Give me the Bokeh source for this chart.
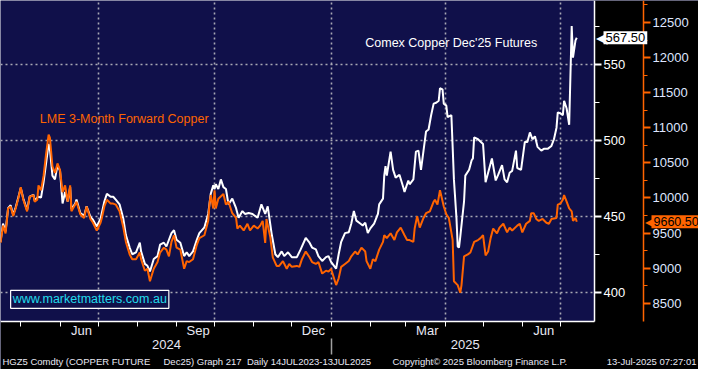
import pandas as pd
from bokeh.plotting import figure
from bokeh.models import Range1d, LinearAxis, FixedTicker, Grid, Label, BoxAnnotation
from bokeh.embed import file_html
from bokeh.resources import INLINE

start_date = "2024-04-15"
end_date = "2025-07-28"

lme_day = [0,2,4,6,8,10,12,14,16,18,
           21,23,26,27,29,30,32,34,36,38,
           39,41,43,45,47,49,51,53,55,56,
           59,60,63,66,68,71,73,76,79,80,
           82,84,87,89,91,94,97,99,102,104,
           107,110,111,114,116,118,121,124,126,129,
           131,133,135,137,139,142,145,147,149,152,
           155,157,161,164,165,166,168,169,170,172,
           176,178,180,183,186,187,189,192,195,197,
           200,203,205,207,209,210,213,215,218,220,
           223,226,228,230,234,236,238,241,244,246,
           249,251,254,257,259,261,265,267,269,272,
           275,277,280,282,285,288,289,292,294,296,
           299,302,303,305,308,311,313,316,319,321,
           323,326,327,329,331,334,336,339,342,343,
           345,347,350,352,354,357,358,361,363,364,
           366,369,371,374,377,379,381,383,385,387,
           389,392,394,397,400,402,404,408,410,412,
           415,418,419,421,423,425,428,431,433,435,
           439,440,442,444,445,447,449,451,452,454,
           455]
lme_price = [9360,9606,9496,9851,9879,9742,9851,9988,10152,9974,
             9810,10015,10042,9947,9974,10179,10111,10315,10629,10902,
             10861,10452,10356,10493,10397,10083,10179,9947,10179,9810,
             9906,9947,9769,9715,9879,9701,9647,9537,9647,9715,
             9879,9974,9920,9920,9906,9810,9578,9374,9196,9128,
             9128,9223,9128,8964,8991,8814,8991,9087,9223,9292,
             9264,9169,9374,9469,9292,9264,8991,9101,9087,9128,
             9333,9428,9469,9674,9920,10042,9851,10111,9851,9988,
             10056,9906,9947,9783,9715,9565,9606,9537,9633,9537,
             9606,9565,9606,9674,9360,9701,9442,9155,9032,9032,
             9101,8991,9060,9019,9032,9019,9128,9237,9155,9087,
             9060,9087,8923,8964,8950,8991,8759,8855,9019,9060,
             9101,9169,9237,9196,9292,9237,9101,8991,9128,9101,
             9264,9374,9469,9428,9496,9401,9510,9578,9469,9401,
             9401,9374,9565,9742,9578,9715,9783,9810,9947,9974,
             9906,10111,9879,9769,9715,9401,8814,8759,8650,8759,
             9169,9196,9223,9374,9401,9428,9469,9183,9237,9428,
             9565,9496,9578,9633,9510,9578,9537,9606,9633,9510,
             9633,9674,9783,9783,9701,9674,9701,9647,9633,9701,
             9715,9906,9920,9974,10042,9947,9851,9810,9674,9715,
             9660.5]

comex_day = [0,2,4,6,8,10,12,14,16,18,
             21,23,26,27,29,30,32,34,36,38,
             39,41,43,45,47,49,51,53,55,56,
             59,60,63,66,68,71,73,76,79,80,
             82,84,87,89,91,94,97,99,102,104,
             107,110,111,114,116,118,121,124,126,129,
             131,135,137,139,142,145,147,149,152,155,
             157,161,164,166,168,169,170,172,174,176,
             178,180,183,186,188,191,193,196,199,201,
             203,206,209,211,214,217,219,222,224,227,
             230,232,234,237,241,244,246,249,251,254,
             257,259,261,265,267,269,272,275,277,279,
             281,284,286,288,290,292,295,298,299,302,
             303,304,305,308,310,312,315,318,319,322,
             323,326,328,330,332,334,336,338,340,342,
             344,346,347,349,350,352,353,356,357,358,
             360,361,362,363,366,367,370,372,373,374,
             377,381,383,385,388,391,393,396,398,400,
             402,404,407,408,411,414,416,418,420,422,
             424,427,429,432,435,437,439,440,442,444,
             445,447,449,451,452,454,455]
comex_price = [433.4,445.4,440.3,455.5,457.4,451.1,456.1,462.4,468.7,461.8,
               454.2,463.0,464.3,460.5,462.4,463.0,462.4,472.5,485.1,497.7,
               494.5,476.9,474.4,483.8,480.0,458.6,466.2,459.9,469.3,454.8,
               458.6,461.1,452.3,450.4,456.7,449.8,447.9,443.5,448.5,452.3,
               459.9,464.9,463.0,463.0,461.1,458.0,448.5,437.8,429.6,425.2,
               426.5,432.8,427.1,418.9,417.6,413.9,422.1,424.0,431.5,432.8,
               430.3,439.1,441.0,434.7,432.8,424.0,426.5,424.0,427.1,434.7,
               439.1,442.9,451.7,464.9,470.6,468.1,471.2,468.1,474.4,469.3,
               468.1,458.0,461.8,455.5,449.2,453.6,451.7,452.3,451.7,450.4,
               449.2,458.0,451.7,456.7,439.1,425.2,423.3,427.1,424.0,426.5,
               423.3,423.3,423.3,428.4,435.9,432.8,429.6,428.4,424.0,420.8,
               423.3,424.0,420.2,415.8,425.2,433.4,439.1,439.7,445.4,453.6,
               447.3,445.4,444.1,446.0,439.1,442.2,445.4,451.7,458.0,461.8,
               476.9,483.2,476.9,492.7,480.7,475.6,477.5,469.3,466.2,473.7,
               471.2,474.4,492.7,493.3,480.7,493.3,505.9,507.2,516.6,524.2,
               524.8,526.1,534.3,533.6,524.2,522.9,515.3,516.6,495.8,474.4,
               449.2,430.3,429.6,436.6,459.9,476.9,480.7,487.0,488.2,502.1,
               500.8,497.7,472.5,478.8,488.2,473.7,477.5,483.8,474.4,472.5,
               478.8,480.0,493.3,481.9,480.7,499.0,499.0,505.3,500.8,502.7,
               495.8,493.3,494.5,494.5,496.4,500.8,508.4,518.5,517.9,516.6,
               526.1,521.0,510.3,575.2,554.4,565.8,567.5]

comex_ticks = [400, 450, 500, 550]
comex_minor = [425, 475, 525, 575]
lme_ticks = [8500, 9000, 9500, 10000, 10500, 11000, 11500, 12000, 12500]
lme_minor = [8750, 9250, 9750, 10250, 10750, 11250, 11750, 12250, 12750]
month_labels = ["Jun", "Sep", "Dec", "Mar", "Jun"]
month_label_dates = ["2024-06-18", "2024-09-18", "2024-12-18", "2025-03-18", "2025-06-18"]
month_tick_dates = ["2024-05-01", "2024-06-01", "2024-07-01", "2024-08-01", "2024-09-01",
                    "2024-10-01", "2024-11-01", "2024-12-01", "2025-01-01", "2025-02-01",
                    "2025-03-01", "2025-04-01", "2025-05-01", "2025-06-01", "2025-07-01"]
grid_dates = ["2024-07-01", "2024-10-01", "2025-01-01", "2025-04-01", "2025-07-01"]
year_labels = ["2024", "2025"]
year_label_dates = ["2024-08-24", "2025-04-17"]
year_break = ["2025-01-01"]

comex_last = 567.50
lme_last = 9660.50
comex_name = "Comex Copper Dec'25 Futures"
lme_name = "LME 3-Month Forward Copper"
site = "www.marketmatters.com.au"
footer_left = "HGZ5 Comdty (COPPER FUTURE\u00a0\u00a0\u00a0\u00a0 Dec25) Graph 217\u00a0 Daily 14JUL2023-13JUL2025"
footer_mid = "Copyright\u00a9 2025 Bloomberg Finance L.P."
footer_right = "13-Jul-2025 07:27:01"


def ms(d):
    return int(pd.Timestamp(d).value // 10**6)


# ---- layout (pixels) ----
W, H = 698, 369
DATA_W, DATA_H = 594, 321          # navy plotting region, top-left anchored
C_LO, C_HI = 381, 592              # Comex range shown in the navy region
L_LO, L_HI = 8240, 12814           # LME range shown in the navy region
AX2_PX = 49                        # gap between the two right-hand axes

x0, x1 = ms(start_date), ms(end_date)
xpp = (x1 - x0) / DATA_W
cpp = (C_HI - C_LO) / DATA_H
lpp = (L_HI - L_LO) / DATA_H


def x_at(px):
    return x0 + px * xpp


def c_at(py):
    return C_HI - py * cpp


t0 = pd.Timestamp(start_date)
lme_x = [t0 + pd.Timedelta(days=d) for d in lme_day]
comex_x = [t0 + pd.Timedelta(days=d) for d in comex_day]

NAVY = "#10104a"
ORANGE = "#ff6400"
FONT = "Liberation Sans"
TXT = "#e8e8f4"

p = figure(width=W, height=H,
           x_range=Range1d(x0, x_at(W)),
           y_range=Range1d(c_at(H), C_HI),
           x_axis_type=None, y_axis_type=None,
           output_backend="svg", toolbar_location=None,
           min_border=0, min_border_left=0, min_border_top=0,
           min_border_right=0, min_border_bottom=0,
           background_fill_color=NAVY, border_fill_color="black",
           outline_line_color=None)
p.extra_y_ranges = {"lme": Range1d(L_HI - H * lpp, L_HI)}

# grids (drawn first, then covered outside the navy region)
p.add_layout(Grid(dimension=1, ticker=FixedTicker(ticks=comex_ticks), level="image",
                  grid_line_color="#a8a8b4", grid_line_dash="2 3", grid_line_width=1.6))
p.add_layout(Grid(dimension=0, ticker=FixedTicker(ticks=[ms(d) for d in grid_dates]),
                  level="image",
                  grid_line_color="#a8a8b4", grid_line_dash="2 3", grid_line_width=1.6))
p.add_layout(BoxAnnotation(left=x1, fill_color="black", fill_alpha=1, line_color=None,
                           level="underlay"))
p.add_layout(BoxAnnotation(top=C_LO, fill_color="black", fill_alpha=1, line_color=None,
                           level="underlay"))

# series
p.line(comex_x, comex_price, color="white", line_width=2)
p.line(lme_x, lme_price, color=ORANGE, line_width=2, y_range_name="lme")

# right axes
ax_c = LinearAxis(fixed_location=x1, bounds=(C_LO, C_HI),
                  ticker=FixedTicker(ticks=comex_ticks, minor_ticks=comex_minor),
                  axis_line_color="white", axis_line_width=1.5,
                  major_tick_line_color="white", major_tick_line_width=2,
                  major_tick_out=7, major_tick_in=0,
                  minor_tick_line_color="white", minor_tick_out=5, minor_tick_in=0,
                  major_label_text_color="white", major_label_text_font=FONT,
                  major_label_text_font_size="13px", major_label_standoff=2)
p.add_layout(ax_c, "right")

x_l = x_at(DATA_W + AX2_PX)
ax_l = LinearAxis(y_range_name="lme", fixed_location=x_l, bounds=(L_LO, L_HI),
                  ticker=FixedTicker(ticks=lme_ticks, minor_ticks=lme_minor),
                  axis_line_color=ORANGE, axis_line_width=1.5,
                  major_tick_line_color=ORANGE, major_tick_line_width=2,
                  major_tick_out=7, major_tick_in=0,
                  minor_tick_line_color=ORANGE, minor_tick_out=4, minor_tick_in=0,
                  major_label_text_color="#dfe6ff", major_label_text_font=FONT,
                  major_label_text_font_size="13px", major_label_standoff=2)
p.add_layout(ax_l, "right")

# bottom: month tick marks (no labels)
month_tick_ms = [ms(d) for d in month_tick_dates]
ax_mt = LinearAxis(fixed_location=C_LO, bounds=(x0, x1),
                   ticker=FixedTicker(ticks=month_tick_ms),
                   major_label_overrides={m: "" for m in month_tick_ms},
                   axis_line_color="white", axis_line_width=1.5,
                   major_tick_line_color="white", major_tick_out=5, major_tick_in=0,
                   minor_tick_line_color=None,
                   major_label_text_font_size="1px")
p.add_layout(ax_mt, "below")

# bottom: month labels
month_ms = [ms(d) for d in month_label_dates]
ax_m = LinearAxis(fixed_location=C_LO, bounds=(x0, x1),
                  ticker=FixedTicker(ticks=month_ms),
                  major_label_overrides={m: lab for m, lab in zip(month_ms, month_labels)},
                  axis_line_color=None,
                  major_tick_line_color=None, major_tick_out=0, major_tick_in=0,
                  minor_tick_line_color=None, minor_tick_out=0, minor_tick_in=0,
                  major_label_standoff=1, major_label_text_color=TXT,
                  major_label_text_font=FONT, major_label_text_font_size="13px")
p.add_layout(ax_m, "below")

# bottom: year separator
ax_sep = LinearAxis(fixed_location=c_at(338), bounds=(x0, x1),
                    ticker=FixedTicker(ticks=[ms(d) for d in year_break]),
                    major_label_overrides={ms(d): "" for d in year_break},
                    axis_line_color=None,
                    major_tick_line_color="#a0a0a0", major_tick_line_width=1.5,
                    major_tick_out=16, major_tick_in=0,
                    minor_tick_line_color=None, major_label_text_font_size="1px")
p.add_layout(ax_sep, "below")

# bottom: year labels
year_ms = [ms(d) for d in year_label_dates]
ax_y = LinearAxis(fixed_location=c_at(339), bounds=(x0, x1),
                  ticker=FixedTicker(ticks=year_ms),
                  major_label_overrides={m: lab for m, lab in zip(year_ms, year_labels)},
                  axis_line_color=None,
                  major_tick_line_color=None, major_tick_out=0, major_tick_in=0,
                  minor_tick_line_color=None, minor_tick_out=0, minor_tick_in=0,
                  major_label_standoff=0, major_label_text_color=TXT,
                  major_label_text_font=FONT, major_label_text_font_size="13px")
p.add_layout(ax_y, "below")

# in-plot texts
p.add_layout(Label(x=ms("2025-01-28"), y=563.9, text=comex_name,
                   text_color="white", text_font=FONT, text_font_size="12.5px",
                   text_baseline="middle"))
p.add_layout(Label(x=ms("2024-05-16"), y=514.1, text=lme_name,
                   text_color=ORANGE, text_font=FONT, text_font_size="12.5px",
                   text_baseline="middle"))
p.add_layout(Label(x=ms("2024-04-23"), y=395.6, text=site,
                   text_color="#22dcec", text_font=FONT, text_font_size="12.5px",
                   text_baseline="middle", background_fill_color=NAVY,
                   border_line_color="white", border_line_width=1.2, padding=2))

# last value tags
p.add_layout(Label(x=x1, y=comex_last, x_offset=1, text="\u25c0", text_color="white",
                   text_font_size="15px", text_baseline="middle"))
p.add_layout(Label(x=x1, y=comex_last, x_offset=9, text=f"{comex_last:.2f}", text_color="black",
                   text_font=FONT, text_font_size="13px", text_baseline="middle",
                   background_fill_color="white", padding=2))
p.add_layout(Label(x=x_l, y=lme_last, y_range_name="lme", x_offset=1, text="\u25c0",
                   text_color=ORANGE, text_font_size="15px", text_baseline="middle"))
p.add_layout(Label(x=x_l, y=lme_last, y_range_name="lme", x_offset=8, text=f"{lme_last:.2f}",
                   text_color="black", text_font=FONT, text_font_size="12.5px",
                   text_baseline="middle", background_fill_color=ORANGE, padding=2))

# footer
FOOT_FONT = "Liberation Sans Narrow, Liberation Sans"
for fx, txt, align in [(2, footer_left, "left"), (392, footer_mid, "left"),
                       (696, footer_right, "right")]:
    p.add_layout(Label(x=fx, y=8, x_units="screen", y_units="screen", text=txt,
                       text_align=align, text_baseline="middle", text_color=TXT,
                       text_font=FOOT_FONT, text_font_size="9.5px"))

open("out.html", "w").write(file_html(p, INLINE))
